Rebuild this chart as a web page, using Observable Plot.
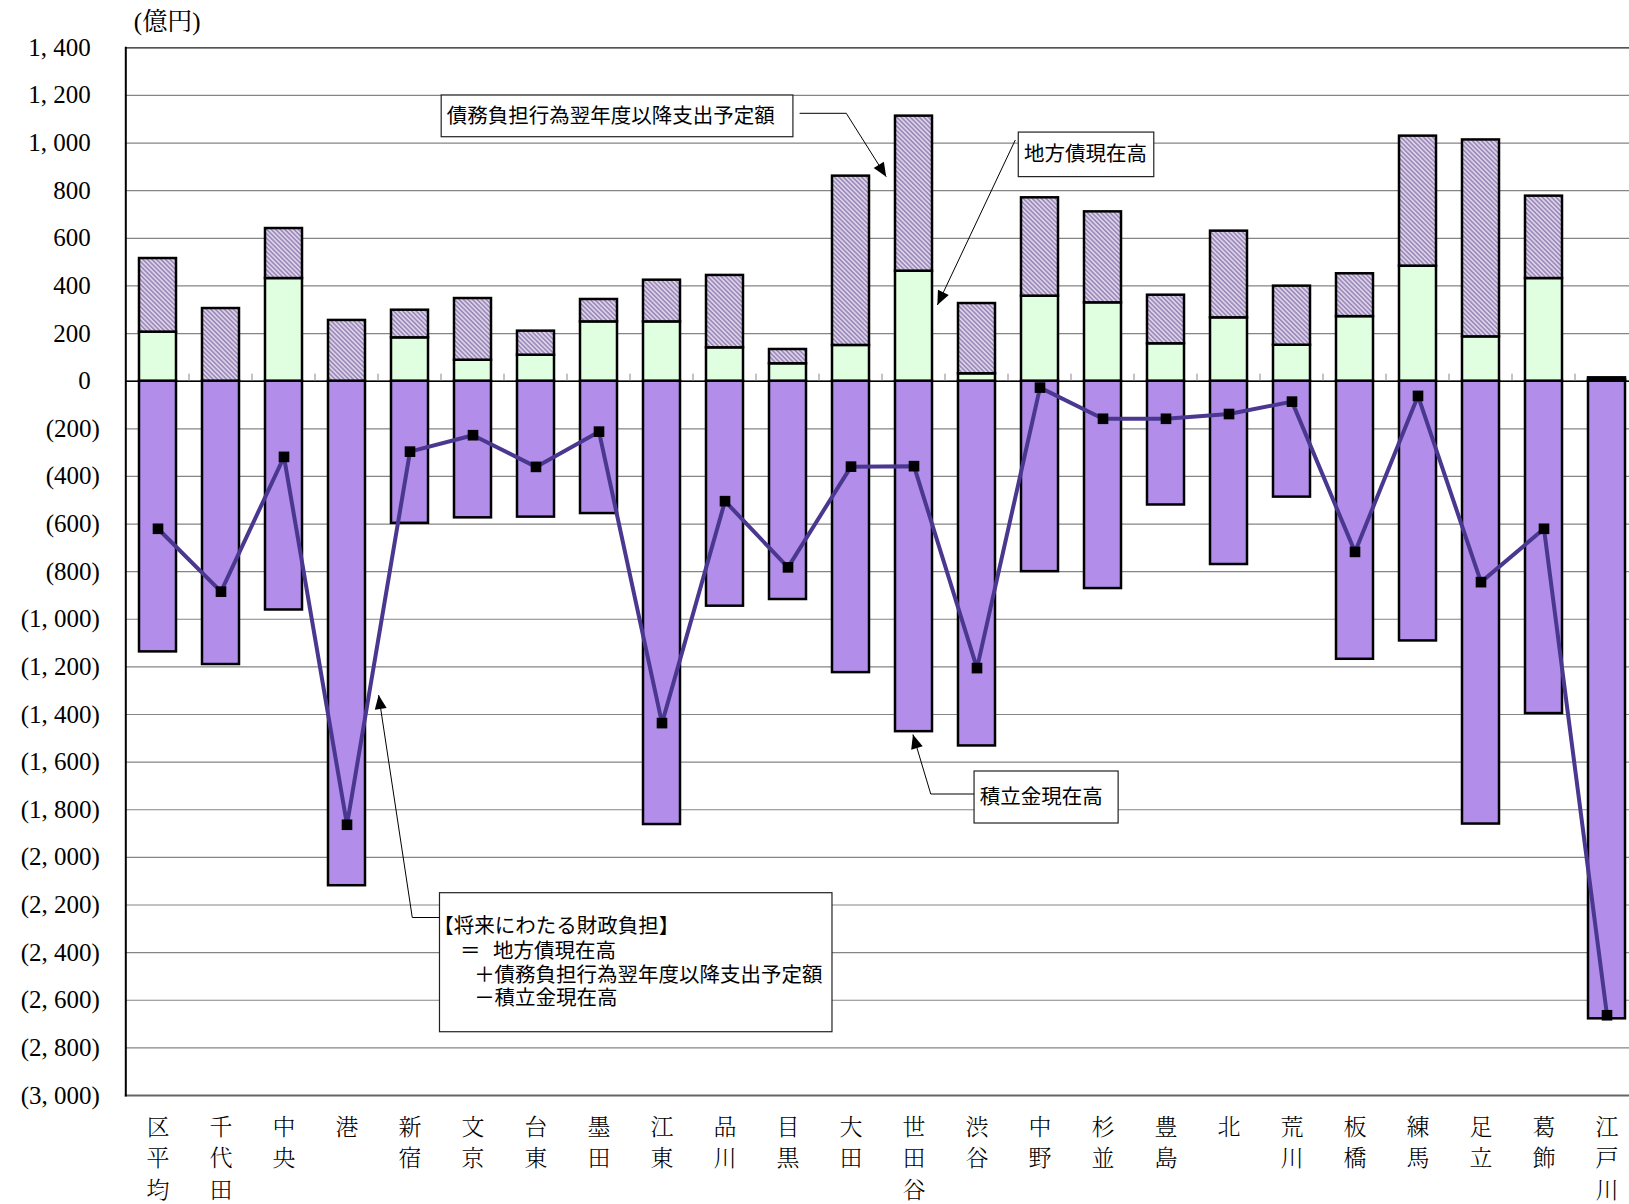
<!DOCTYPE html>
<html>
<head>
<meta charset="utf-8">
<script src="https://cdn.jsdelivr.net/npm/d3@7"></script>
<script src="https://cdn.jsdelivr.net/npm/@observablehq/plot@0.6"></script>
<style>
html, body { margin: 0; padding: 0; background: #fff; overflow: hidden; }
</style>
</head>
<body>
<div id="chart"></div>
<script>
// ---- data (億円) ----
const categories = ["区平均","千代田","中央","港","新宿","文京","台東","墨田","江東","品川","目黒","大田","世田谷","渋谷","中野","杉並","豊島","北","荒川","板橋","練馬","足立","葛飾","江戸川"];
// 地方債現在高
const bondBalance = [206, 0, 431, 0, 182, 88, 109, 249, 249, 140, 73, 150, 462, 31, 357, 329, 157, 266, 151, 271, 483, 186, 431, 4];
// 債務負担行為翌年度以降支出予定額
const debtBurdenActs = [309, 305, 210, 255, 116, 259, 101, 94, 175, 304, 60, 711, 651, 295, 413, 382, 204, 364, 248, 180, 546, 827, 346, 10];
// 積立金現在高
const reserveFunds = [1137, 1190, 961, 2119, 597, 574, 571, 556, 1862, 945, 917, 1224, 1472, 1532, 800, 871, 520, 770, 487, 1168, 1091, 1860, 1396, 2678];
// 将来にわたる財政負担
const futureBurden = [-620, -884, -318, -1863, -296, -227, -360, -212, -1436, -504, -782, -359, -357, -1205, -27, -158, -158, -138, -86, -717, -62, -844, -620, -2663];

const yTicks = [1400, 1200, 1000, 800, 600, 400, 200, 0, -200, -400, -600, -800, -1000, -1200, -1400, -1600, -1800, -2000, -2200, -2400, -2600, -2800, -3000];
const yTickLabels = ["1, 400","1, 200","1, 000","800","600","400","200","0","(200)","(400)","(600)","(800)","(1, 000)","(1, 200)","(1, 400)","(1, 600)","(1, 800)","(2, 000)","(2, 200)","(2, 400)","(2, 600)","(2, 800)","(3, 000)"];
const unitLabel = "(億円)";

// annotation callouts, positioned in data space (u = category index, v = value)
// each text is one label; its lines are [string, u, v]
const callouts = [
  {box: [4.503, 10.086, 1199.6, 1024.5],
   texts: [[["債務負担行為翌年度以降支出予定額", 4.593, 1082]]],
   leader: [[10.192, 1122.8], [10.933, 1122.8], [11.567, 856.5]]},
  {box: [13.663, 15.814, 1044, 856.9],
   texts: [[["地方債現在高", 13.755, 922.5]]],
   leader: [[13.616, 1010.7], [12.379, 317.7]]},
  {box: [12.961, 15.248, -1639.3, -1857.7],
   texts: [[["積立金現在高", 13.053, -1777.9]]],
   leader: [[12.961, -1735.9], [12.274, -1735.9], [11.991, -1486]]},
  {box: [4.476, 10.706, -2150.4, -2734.2],
   texts: [[["【将来にわたる財政負担】", 4.376, -2319.7],
            ["＝", 4.800, -2424.6],
            ["地方債現在高", 5.327, -2424.6],
            ["＋債務負担行為翌年度以降支出予定額", 5.026, -2524.2],
            ["－積立金現在高", 5.026, -2622]]],
   leader: [[4.476, -2254.6], [4.044, -2254.6], [3.51, -1320.1]]}
];

const rows = categories.map((c, i) => ({
  cat: c, bond: bondBalance[i], debt: debtBurdenActs[i],
  reserve: reserveFunds[i], burden: futureBurden[i]
}));

const serif = "'Liberation Serif','Noto Serif CJK JP','Noto Sans CJK JP',serif";
const gothic = "'Noto Sans CJK JP','Noto Sans',sans-serif";

const posTicks = yTicks.filter(t => t >= 0);
const negTicks = yTicks.filter(t => t < 0);
const fmt = v => yTickLabels[yTicks.indexOf(v)];

function overlay(index, scales, values, dims) {
  const x = scales.x, y = scales.y;
  const bw = x.bandwidth ? x.bandwidth() : 0;
  const cx = c => x(c) + bw / 2;
  const c0 = cx(categories[0]);
  const step = cx(categories[1]) - c0;
  const X = u => c0 + u * step;
  const g = d3.create("svg:g").attr("text-anchor", "start");
  // small category ticks on the zero line
  categories.slice(1).forEach(c => {
    const bx = cx(c) - step / 2;
    g.append("line").attr("x1", bx).attr("x2", bx)
      .attr("y1", y(0)).attr("y2", y(0) - 7)
      .attr("stroke", "#888").attr("stroke-width", 1);
  });
  // callouts
  callouts.forEach(cl => {
    const [u1, u2, v1, v2] = cl.box;
    g.append("rect")
      .attr("x", X(u1)).attr("y", y(v1))
      .attr("width", X(u2) - X(u1)).attr("height", y(v2) - y(v1))
      .attr("fill", "white").attr("stroke", "#222").attr("stroke-width", 1.2);
    cl.texts.forEach(lines => {
      const t = g.append("text")
        .attr("text-anchor", "start")
        .attr("font-family", gothic).attr("font-size", 20.5)
        .attr("fill", "black");
      lines.forEach(([s, u, v]) => {
        t.append("tspan").attr("x", X(u)).attr("y", y(v)).text(s);
      });
    });
    const pts = cl.leader.map(([u, v]) => [X(u), y(v)]);
    g.append("path").attr("d", d3.line()(pts))
      .attr("fill", "none").attr("stroke", "black").attr("stroke-width", 1);
    const [ax, ay] = pts[pts.length - 1];
    const [bx, by] = pts[pts.length - 2];
    const len = Math.hypot(ax - bx, ay - by);
    const ux = (ax - bx) / len, uy = (ay - by) / len;
    const L = 14, Wd = 6;
    const px = ax - ux * L, py = ay - uy * L;
    g.append("path")
      .attr("d", `M${ax},${ay}L${px - uy * Wd},${py + ux * Wd}L${px + uy * Wd},${py - ux * Wd}Z`)
      .attr("fill", "black");
  });
  return g.node();
}

const chart = Plot.plot({
  width: 1629,
  height: 1204,
  marginLeft: 125.3,
  marginTop: 47.3,
  marginBottom: 109,
  marginRight: 0,
  style: {background: "white", overflow: "hidden"},
  x: {domain: categories, range: [125.3, 1639.7], paddingInner: 0.407, paddingOuter: 0.2035, align: 0.5},
  y: {domain: [-3000, 1400], range: [1095, 47.3]},
  marks: [
    Plot.gridY(yTicks, {stroke: "#858585", strokeOpacity: 1, strokeWidth: 1.2}),
    Plot.frame({anchor: "top", stroke: "#555", strokeWidth: 1.5}),
    Plot.frame({anchor: "bottom", stroke: "#666", strokeWidth: 2}),
    Plot.barY(rows, {x: "cat", y1: 0, y2: d => -d.reserve, fill: "#b28eea", stroke: "black", strokeWidth: 2.5}),
    Plot.barY(rows, {x: "cat", y1: 0, y2: "bond", fill: "#e0ffe0", stroke: "black", strokeWidth: 2.5}),
    Plot.barY(rows, {x: "cat", y1: "bond", y2: d => d.bond + d.debt, fill: "url(#hatch)", stroke: "black", strokeWidth: 2.5}),
    Plot.ruleY([0], {stroke: "black", strokeWidth: 1.5}),
    Plot.frame({anchor: "left", stroke: "black", strokeWidth: 2}),
    Plot.line(rows, {x: "cat", y: "burden", stroke: "#4a3890", strokeWidth: 4}),
    Plot.dot(rows, {x: "cat", y: "burden", symbol: "square", r: 6, fill: "black", stroke: "none"}),
    overlay,
    Plot.axisY({ticks: posTicks, tickFormat: fmt, tickSize: 0, tickPadding: 35, fontSize: 25, fontFamily: serif, label: null, anchor: "left"}),
    Plot.axisY({ticks: negTicks, tickFormat: fmt, tickSize: 0, tickPadding: 26, fontSize: 25, fontFamily: serif, label: null, anchor: "left"}),
    Plot.axisX({anchor: "bottom", tickSize: 0, tickPadding: 17, fontSize: 23, lineHeight: 1.37, fontFamily: serif, fontWeight: 300, label: null, tickFormat: d => [...d].join("\n")}),
    Plot.text([unitLabel], {text: d => d, frameAnchor: "top-left", dx: 8, dy: -25.6, textAnchor: "start", lineAnchor: "middle", fontSize: 25, fontFamily: serif})
  ]
});

const svg = d3.select(chart);
const defs = svg.insert("defs", ":first-child");
const pat = defs.append("pattern").attr("id", "hatch")
  .attr("patternUnits", "userSpaceOnUse")
  .attr("width", 3.2).attr("height", 3.2)
  .attr("patternTransform", "rotate(-45)");
pat.append("rect").attr("width", 3.2).attr("height", 3.2).attr("fill", "#dcd2e8");
pat.append("rect").attr("width", 1.6).attr("height", 3.2).attr("fill", "#9c8aba");

document.getElementById("chart").appendChild(chart);
</script>
</body>
</html>
